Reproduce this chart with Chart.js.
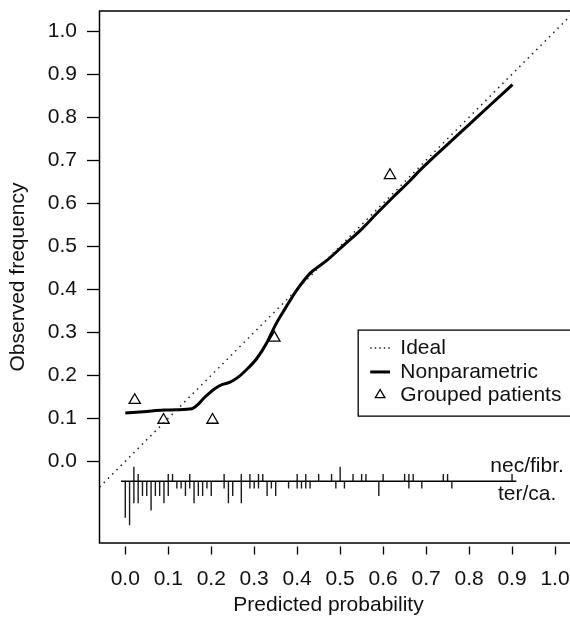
<!DOCTYPE html>
<html>
<head>
<meta charset="utf-8">
<script src="https://cdn.jsdelivr.net/npm/chart.js@4/dist/chart.umd.min.js"></script>
<style>
  html, body { margin: 0; padding: 0; background: #fff; }
  canvas { display: block; }
</style>
</head>
<body>
<canvas id="c" width="570" height="620"></canvas>
<script>
// ---- data ----
const tickValues = [0.0, 0.1, 0.2, 0.3, 0.4, 0.5, 0.6, 0.7, 0.8, 0.9, 1.0];
const idealX = [-0.06, 1.045];
const curveX = [0.0, 0.05, 0.09, 0.12, 0.155, 0.17, 0.182, 0.195, 0.209, 0.225, 0.244, 0.262, 0.279, 0.306, 0.33, 0.349, 0.372, 0.399, 0.43, 0.469, 0.508, 0.547, 0.585, 0.624, 0.663, 0.686, 0.75, 0.8, 0.85, 0.901];
const curveY = [0.112, 0.116, 0.119, 0.12, 0.122, 0.133, 0.146, 0.158, 0.169, 0.178, 0.184, 0.195, 0.210, 0.239, 0.277, 0.316, 0.355, 0.398, 0.437, 0.467, 0.502, 0.537, 0.576, 0.615, 0.653, 0.677, 0.737, 0.783, 0.829, 0.876];
const groupX = [0.022, 0.089, 0.203, 0.347, 0.616];
const groupY = [0.142, 0.096, 0.096, 0.287, 0.665];
// spike histogram: upward = nec/fibr., downward = ter/ca.
const spikeUpX = [0.02,0.03,0.10,0.11,0.15,0.23,0.27,0.29,0.31,0.32,0.40,0.42,0.45,0.48,0.50,0.53,0.55,0.56,0.60,0.65,0.66,0.67,0.74,0.75,0.90];
const spikeUpN = [2,1,1,1,1,1,1,1,1,1,1,1,1,1,2,1,1,1,1,1,1,1,1,1,1];
const spikeDownX = [0.00,0.01,0.02,0.03,0.04,0.05,0.06,0.07,0.08,0.09,0.10,0.12,0.13,0.14,0.15,0.16,0.17,0.18,0.19,0.20,0.23,0.24,0.25,0.27,0.29,0.30,0.31,0.33,0.34,0.35,0.38,0.40,0.41,0.42,0.43,0.49,0.51,0.59,0.66,0.69,0.76];
const spikeDownN = [5,6,3,3,2,2,4,2,2,3,2,1,1,2,1,3,2,2,1,2,1,3,2,3,1,1,1,2,1,2,1,1,1,1,1,1,1,2,1,1,1];
const spikeRange = [-0.01, 0.91];
const spikeBase = -0.0465;
const spikeUnit = 0.017;
const legendLabels = ['Ideal', 'Nonparametric', 'Grouped patients'];
const groupLabels = ['nec/fibr.', 'ter/ca.'];

// ---- layout / style ----
const FONT = "'Liberation Sans', Arial, Helvetica, sans-serif";
const FS = 21;
const TXT = '#111';
const xMin = -0.06, xMax = 1.0058, yMin = -0.19, yMax = 1.047;

function spikes(xs, ns, dir) {
  const out = [];
  xs.forEach((x, i) => {
    out.push({x: x, y: spikeBase});
    out.push({x: x, y: spikeBase + dir * ns[i] * spikeUnit});
    out.push({x: x, y: null});
  });
  return out;
}

const boxPlugin = {
  id: 'boxAndLegend',
  afterDraw(chart) {
    const ctx = chart.ctx;
    const a = chart.chartArea;
    const xs = chart.scales.x, ys = chart.scales.y;
    const W = chart.width;
    ctx.save();
    // plot frame (right side runs off the picture as in the reference)
    ctx.strokeStyle = '#000';
    ctx.lineWidth = 1.5;
    ctx.beginPath();
    ctx.moveTo(W + 2, a.top);
    ctx.lineTo(a.left, a.top);
    ctx.lineTo(a.left, a.bottom);
    ctx.lineTo(W + 2, a.bottom);
    ctx.stroke();

    // group labels next to the spike histogram
    ctx.fillStyle = TXT;
    ctx.font = FS + 'px ' + FONT;
    ctx.textAlign = 'center';
    ctx.textBaseline = 'alphabetic';
    const bx = xs.getPixelForValue(0.935);
    const by = ys.getPixelForValue(spikeBase);
    ctx.fillText(groupLabels[0], bx, by - 9);
    ctx.fillText(groupLabels[1], bx, by + 19);

    // legend box
    const lx = xs.getPixelForValue(0.542);
    const ly0 = ys.getPixelForValue(0.305);
    const ly1 = ys.getPixelForValue(0.105);
    ctx.fillStyle = '#fff';
    ctx.fillRect(lx, ly0, W - lx + 5, ly1 - ly0);
    ctx.strokeStyle = '#000';
    ctx.lineWidth = 1.3;
    ctx.strokeRect(lx, ly0, W - lx + 5, ly1 - ly0);
    const rows = [0.2635, 0.2077, 0.1542].map(v => ys.getPixelForValue(v));
    const s0 = xs.getPixelForValue(0.57), s1 = xs.getPixelForValue(0.616);
    const tx = xs.getPixelForValue(0.64);
    // Ideal sample (dotted)
    ctx.strokeStyle = '#222';
    ctx.lineWidth = 1.5;
    ctx.setLineDash([1.5, 3]);
    ctx.beginPath(); ctx.moveTo(s0, rows[0]); ctx.lineTo(s1, rows[0]); ctx.stroke();
    ctx.setLineDash([]);
    // Nonparametric sample
    ctx.strokeStyle = '#000';
    ctx.lineWidth = 3;
    ctx.beginPath(); ctx.moveTo(s0, rows[1]); ctx.lineTo(s1, rows[1]); ctx.stroke();
    // Triangle sample
    const cx = (s0 + s1) / 2, r = 5.5;
    ctx.lineWidth = 1.3;
    ctx.beginPath();
    ctx.moveTo(cx, rows[2] - r);
    ctx.lineTo(cx + r * 0.866, rows[2] + r / 2);
    ctx.lineTo(cx - r * 0.866, rows[2] + r / 2);
    ctx.closePath();
    ctx.stroke();
    // texts
    ctx.fillStyle = TXT;
    ctx.textAlign = 'left';
    ctx.textBaseline = 'middle';
    legendLabels.forEach((t, i) => ctx.fillText(t, tx, rows[i] + 0.5));
    ctx.restore();
  }
};

const fontObj = {family: FONT, size: FS};

new Chart(document.getElementById('c'), {
  type: 'scatter',
  data: {
    datasets: [
      {
        label: legendLabels[0],
        data: idealX.map(v => ({x: v, y: v})),
        showLine: true, borderColor: '#222', borderWidth: 1.5, borderDash: [1.5, 4.5],
        pointRadius: 0, clip: {left: 0, top: 0, right: 15, bottom: 0}
      },
      {
        label: legendLabels[1],
        data: curveX.map((x, i) => ({x: x, y: curveY[i]})),
        showLine: true, borderColor: '#000', borderWidth: 3, pointRadius: 0,
        cubicInterpolationMode: 'monotone'
      },
      {
        label: legendLabels[2],
        data: groupX.map((x, i) => ({x: x, y: groupY[i]})),
        showLine: false, pointStyle: 'triangle', pointRadius: 6.5,
        borderColor: '#000', borderWidth: 1.3, backgroundColor: 'rgba(0,0,0,0)'
      },
      {
        label: 'baseline',
        data: spikeRange.map(x => ({x: x, y: spikeBase})),
        showLine: true, borderColor: '#000', borderWidth: 1.5, pointRadius: 0
      },
      {
        label: groupLabels[0],
        data: spikes(spikeUpX, spikeUpN, 1),
        showLine: true, spanGaps: false, borderColor: '#1a1a1a', borderWidth: 1.4, pointRadius: 0
      },
      {
        label: groupLabels[1],
        data: spikes(spikeDownX, spikeDownN, -1),
        showLine: true, spanGaps: false, borderColor: '#1a1a1a', borderWidth: 1.4, pointRadius: 0
      }
    ]
  },
  options: {
    responsive: false,
    animation: false,
    events: [],
    layout: {padding: {top: 11, right: 12.5, bottom: 0, left: 0}},
    plugins: {legend: {display: false}, tooltip: {enabled: false}},
    scales: {
      x: {
        type: 'linear', min: xMin, max: xMax,
        afterBuildTicks: s => { s.ticks = tickValues.map(v => ({value: v})); },
        afterFit: s => { s.height = 77; s.paddingLeft = 0; s.paddingRight = 0; },
        border: {display: false},
        grid: {drawOnChartArea: false, drawTicks: true, tickLength: 11.5, tickColor: '#000', tickWidth: 1.3, tickBorderDash: [0, 3.5, 8, 50]},
        ticks: {autoSkip: false, maxRotation: 0, minRotation: 0, padding: 12, color: TXT, font: fontObj, callback: v => Number(v).toFixed(1)},
        title: {display: true, text: 'Predicted probability', color: TXT, font: fontObj, padding: {top: 0, bottom: 2}}
      },
      y: {
        type: 'linear', min: yMin, max: yMax,
        afterBuildTicks: s => { s.ticks = tickValues.map(v => ({value: v})); },
        afterFit: s => { s.width = 99.5; s.paddingTop = 0; s.paddingBottom = 0; },
        border: {display: false},
        grid: {drawOnChartArea: false, drawTicks: true, tickLength: 12.5, tickColor: '#000', tickWidth: 1.3},
        ticks: {autoSkip: false, padding: 10, color: TXT, font: fontObj, callback: v => Number(v).toFixed(1)},
        title: {display: true, text: 'Observed frequency', color: TXT, font: fontObj, padding: {top: 6, bottom: 0}}
      }
    }
  },
  plugins: [boxPlugin]
});
</script>
</body>
</html>
